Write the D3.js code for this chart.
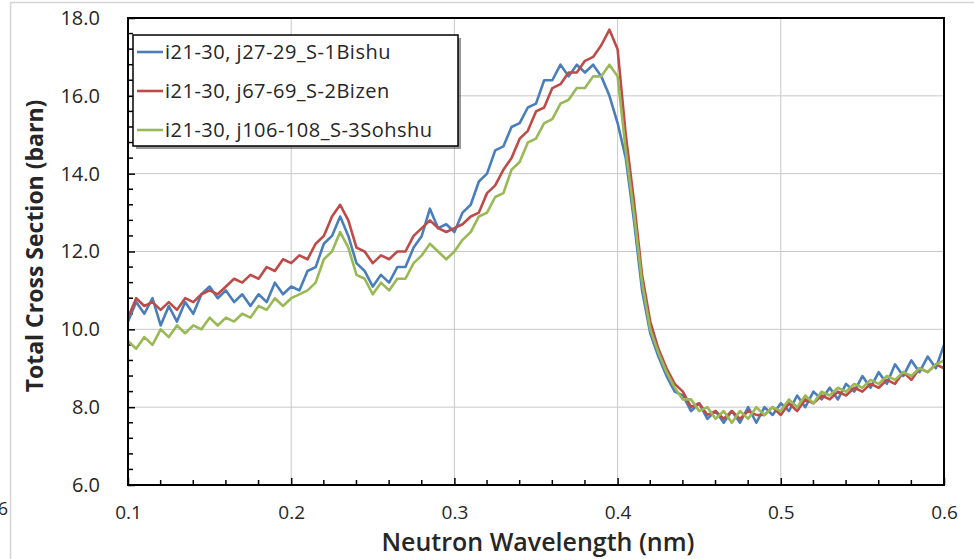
<!DOCTYPE html>
<html>
<head>
<meta charset="utf-8">
<script src="https://cdn.jsdelivr.net/npm/d3@7"></script>
<style>
  body { margin: 0; background: #fff; }
  svg { display: block; }
  text { font-family: "Open Sans", "Noto Sans", sans-serif; fill: #262626; }
</style>
</head>
<body>
<div id="chart"></div>
<script>
// wavelength sampling (nm)
const wavelengths = [
  0.100,0.105,0.110,0.115,0.120,0.125,0.130,0.135,0.140,0.145,
  0.150,0.155,0.160,0.165,0.170,0.175,0.180,0.185,0.190,0.195,
  0.200,0.205,0.210,0.215,0.220,0.225,0.230,0.235,0.240,0.245,
  0.250,0.255,0.260,0.265,0.270,0.275,0.280,0.285,0.290,0.295,
  0.300,0.305,0.310,0.315,0.320,0.325,0.330,0.335,0.340,0.345,
  0.350,0.355,0.360,0.365,0.370,0.375,0.380,0.385,0.390,0.395,
  0.400,0.405,0.410,0.415,0.420,0.425,0.430,0.435,0.440,0.445,
  0.450,0.455,0.460,0.465,0.470,0.475,0.480,0.485,0.490,0.495,
  0.500,0.505,0.510,0.515,0.520,0.525,0.530,0.535,0.540,0.545,
  0.550,0.555,0.560,0.565,0.570,0.575,0.580,0.585,0.590,0.595,
  0.600
];

const bishu = [
  10.2,10.7,10.4,10.8,10.1,10.6,10.2,10.7,10.4,10.9,
  11.1,10.8,11.0,10.7,10.9,10.6,10.9,10.7,11.2,10.9,
  11.1,11.0,11.5,11.6,12.2,12.4,12.9,12.4,11.7,11.5,
  11.1,11.4,11.2,11.6,11.6,12.1,12.4,13.1,12.6,12.7,
  12.5,13.0,13.2,13.8,14.0,14.6,14.7,15.2,15.3,15.7,
  15.8,16.4,16.4,16.8,16.5,16.8,16.6,16.8,16.5,16.0,
  15.3,14.4,12.8,11.0,9.9,9.3,8.8,8.4,8.3,7.9,
  8.1,7.7,7.9,7.6,7.9,7.6,8.0,7.6,8.0,7.8,
  8.1,7.9,8.3,8.0,8.4,8.2,8.5,8.2,8.6,8.4,
  8.8,8.5,8.9,8.6,9.1,8.8,9.2,8.9,9.3,9.0,
  9.6
];

const bizen = [
  10.3,10.8,10.6,10.7,10.5,10.7,10.5,10.8,10.7,10.9,
  11.0,10.9,11.1,11.3,11.2,11.4,11.3,11.6,11.5,11.8,
  11.7,11.9,11.8,12.2,12.4,12.9,13.2,12.8,12.1,12.0,
  11.7,11.9,11.8,12.0,12.0,12.4,12.6,12.8,12.6,12.5,
  12.6,12.7,12.9,13.0,13.5,13.7,14.1,14.4,14.9,15.1,
  15.6,15.7,16.2,16.3,16.6,16.6,16.9,17.0,17.3,17.7,
  17.2,15.0,13.3,11.4,10.2,9.5,9.0,8.6,8.4,8.0,
  8.1,7.8,7.9,7.7,7.9,7.7,7.9,7.8,7.8,8.0,
  7.8,8.1,7.9,8.2,8.1,8.3,8.2,8.4,8.3,8.5,
  8.4,8.6,8.5,8.7,8.6,8.9,8.7,9.0,8.9,9.1,
  9.0
];

const sohshu = [
  9.7,9.5,9.8,9.6,10.0,9.8,10.1,9.9,10.1,10.0,
  10.3,10.1,10.3,10.2,10.4,10.3,10.6,10.5,10.8,10.6,
  10.8,10.9,11.0,11.2,11.8,12.0,12.5,12.1,11.4,11.3,
  10.9,11.2,11.0,11.3,11.3,11.7,11.9,12.2,12.0,11.8,
  12.0,12.3,12.5,12.9,13.0,13.4,13.5,14.1,14.3,14.8,
  14.9,15.3,15.4,15.8,15.9,16.2,16.2,16.5,16.5,16.8,
  16.5,14.6,13.0,11.2,10.0,9.4,8.9,8.5,8.2,8.2,
  7.9,8.0,7.7,7.9,7.6,7.9,7.7,8.0,7.8,8.0,
  7.9,8.2,8.0,8.3,8.1,8.4,8.3,8.5,8.4,8.6,
  8.5,8.7,8.6,8.8,8.7,8.9,8.8,9.0,8.9,9.1,
  9.2
];

const seriesNames = ["i21-30, j27-29_S-1Bishu", "i21-30, j67-69_S-2Bizen", "i21-30, j106-108_S-3Sohshu"];
const seriesColors = ["#4a7ebb", "#be4b48", "#98b954"];
const xTicks = [0.1, 0.2, 0.3, 0.4, 0.5, 0.6];
const yTicks = [6, 8, 10, 12, 14, 16, 18];

const width = 974, height = 559;
const plotLeft = 128, plotRight = 944, plotTop = 18, plotBottom = 485;

const svg = d3.select("#chart").append("svg")
    .attr("width", width)
    .attr("height", height);

// outer chart frame
svg.append("rect")
    .attr("x", 10.5).attr("y", 2.5)
    .attr("width", 1000).attr("height", 600)
    .attr("fill", "none").attr("stroke", "#d4d4d4").attr("stroke-width", 1.5);

const x = d3.scaleLinear().domain([0.1, 0.6]).range([plotLeft, plotRight]);
const y = d3.scaleLinear().domain([6, 18]).range([plotBottom, plotTop]);

// gridlines
svg.append("g").selectAll("line").data(xTicks.slice(1, -1)).join("line")
    .attr("x1", d => x(d)).attr("x2", d => x(d))
    .attr("y1", plotTop).attr("y2", plotBottom)
    .attr("stroke", "#c8c8c8").attr("stroke-width", 1);
svg.append("g").selectAll("line").data(yTicks.slice(1, -1)).join("line")
    .attr("x1", plotLeft).attr("x2", plotRight)
    .attr("y1", d => y(d)).attr("y2", d => y(d))
    .attr("stroke", "#c8c8c8").attr("stroke-width", 1);

// minor ticks (inward)
const xMinor = d3.range(0.12, 0.6, 0.02).filter(v => Math.abs(v * 10 - Math.round(v * 10)) > 0.01);
svg.append("g").selectAll("line").data(xMinor).join("line")
    .attr("x1", d => x(d)).attr("x2", d => x(d))
    .attr("y1", plotBottom).attr("y2", plotBottom - 5)
    .attr("stroke", "#000").attr("stroke-width", 1.5);
const yMinor = d3.range(6.4, 18, 0.4).filter(v => Math.abs(v / 2 - Math.round(v / 2)) > 0.01);
svg.append("g").selectAll("line").data(yMinor).join("line")
    .attr("x1", plotLeft).attr("x2", plotLeft + 5)
    .attr("y1", d => y(d)).attr("y2", d => y(d))
    .attr("stroke", "#000").attr("stroke-width", 1.5);

// axes with inward major ticks
const xAxis = svg.append("g")
    .attr("transform", `translate(0,${plotBottom})`)
    .call(d3.axisBottom(x).tickValues(xTicks).tickFormat(d3.format(".1f")).tickSizeInner(-7).tickSizeOuter(0).tickPadding(21));
xAxis.select(".domain").remove();
xAxis.selectAll(".tick line").attr("stroke", "#000").attr("stroke-width", 1.5);
xAxis.selectAll(".tick text")
    .style("font-size", "19px").style("font-family", "\"Open Sans\", sans-serif")
    .attr("fill", "#262626");

const yAxis = svg.append("g")
    .attr("transform", `translate(${plotLeft},0)`)
    .call(d3.axisLeft(y).tickValues(yTicks).tickFormat(d3.format(".1f")).tickSizeInner(-7).tickSizeOuter(0).tickPadding(28));
yAxis.select(".domain").remove();
yAxis.selectAll(".tick line").attr("stroke", "#000").attr("stroke-width", 1.5);
yAxis.selectAll(".tick text")
    .style("font-size", "20px").style("font-family", "\"Open Sans\", sans-serif")
    .attr("fill", "#262626");

// series lines
const allSeries = [bishu, bizen, sohshu];
const line = d3.line()
    .x((d, i) => x(wavelengths[i]))
    .y(d => y(d));

svg.append("g").selectAll("path").data(allSeries).join("path")
    .attr("d", d => line(d))
    .attr("fill", "none")
    .attr("stroke", (d, i) => seriesColors[i])
    .attr("stroke-width", 2.6)
    .attr("stroke-linejoin", "round");

// plot border
svg.append("rect")
    .attr("x", plotLeft).attr("y", plotTop)
    .attr("width", plotRight - plotLeft).attr("height", plotBottom - plotTop)
    .attr("fill", "none").attr("stroke", "#000").attr("stroke-width", 2);

// legend
const legend = svg.append("g").attr("transform", "translate(133,35)");
legend.append("rect")
    .attr("x", 3).attr("y", 3).attr("width", 325).attr("height", 111)
    .attr("fill", "#555").attr("opacity", 0.6);
legend.append("rect")
    .attr("x", 0).attr("y", 0).attr("width", 325).attr("height", 111)
    .attr("fill", "#fff").attr("stroke", "#000").attr("stroke-width", 1.5);
seriesNames.forEach((name, i) => {
    const ly = 17 + i * 39;
    legend.append("line")
        .attr("x1", 4).attr("x2", 30).attr("y1", ly).attr("y2", ly)
        .attr("stroke", seriesColors[i]).attr("stroke-width", 2.6);
    legend.append("text")
        .attr("x", 32).attr("y", ly)
        .attr("dy", "0.35em")
        .style("font-size", "20px")
        .style("letter-spacing", "0.5px")
        .text(name);
});

// axis titles
svg.append("text")
    .attr("x", 538).attr("y", 551)
    .attr("text-anchor", "middle")
    .style("font-size", "25px").style("font-weight", "600")
    .text("Neutron Wavelength (nm)");

svg.append("text")
    .attr("transform", "translate(43,246) rotate(-90)")
    .attr("text-anchor", "middle")
    .style("font-size", "23px").style("font-weight", "bold")
    .text("Total Cross Section (barn)");

// stray clipped label at far left
svg.append("text")
    .attr("x", 8).attr("y", 515)
    .attr("text-anchor", "end")
    .style("font-size", "18px")
    .text("6");
</script>
</body>
</html>
